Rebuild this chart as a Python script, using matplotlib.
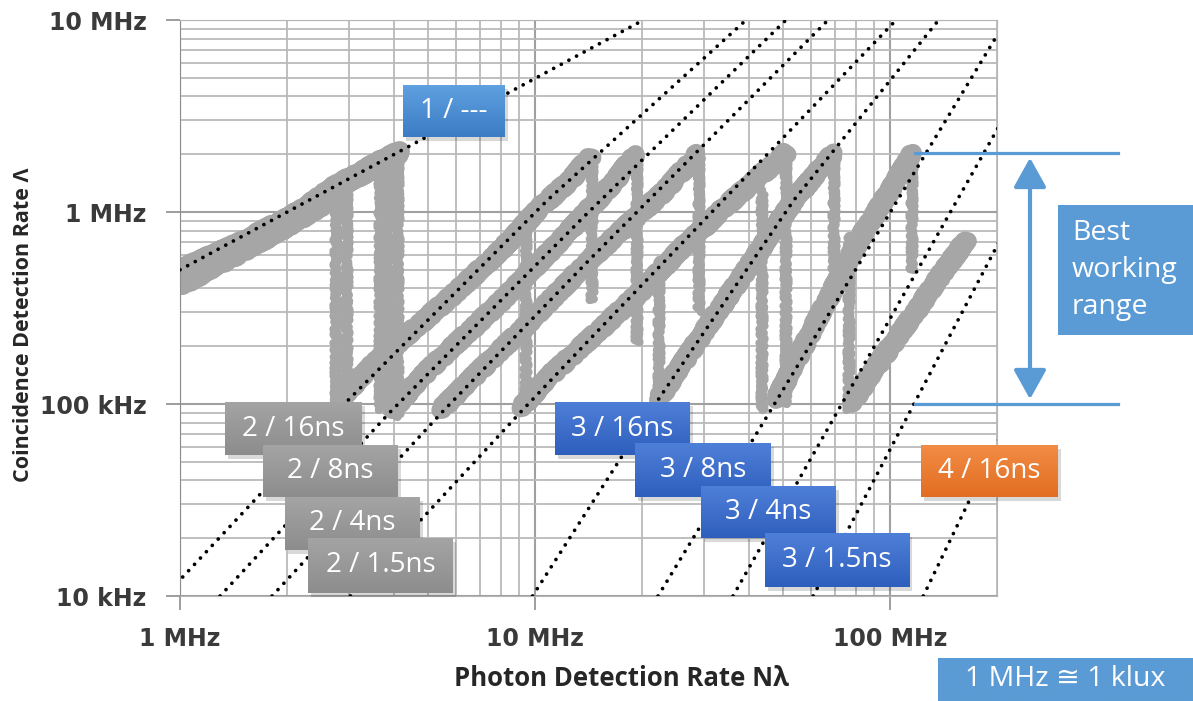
import numpy as np
import matplotlib.pyplot as plt
from matplotlib.patches import Rectangle, FancyArrowPatch
from matplotlib.lines import Line2D
from matplotlib.colors import LinearSegmentedColormap
from matplotlib.ticker import LogLocator, NullFormatter, FixedLocator, FixedFormatter

# all rates in MHz
# dotted model curves: photon rate N, coincidence rate L
model_1 = ([1.0, 20.2], [0.5, 10.0])
model_2 = [
    ([0.907, 2.98, 10.85, 39.3], [0.01, 0.105, 1.155, 10.0]),   # 16 ns
    ([1.297, 3.91, 13.7, 50.9], [0.01, 0.0909, 0.942, 10.0]),   # 8 ns
    ([1.817, 5.48, 14.2, 66.9], [0.01, 0.0909, 0.562, 10.0]),   # 4 ns
    ([3.02, 9.22, 14.35, 104.0], [0.01, 0.093, 0.22, 10.0]),    # 1.5 ns
]
model_3 = [
    ([9.84, 22.2, 53.6, 137.0], [0.01, 0.105, 1.155, 10.0]),
    ([22.2, 48.0, 202.0], [0.01, 0.105, 8.56]),
    ([36.1, 202.0], [0.01, 2.77]),
    ([60.7, 202.0], [0.01, 0.69]),
]
model_4 = ([124.0, 202.0], [0.01, 0.065])

# measured traces (grey bands)
trace_1fold = [
    ([1.0, 1.48, 2.18, 2.74, 3.22, 3.96, 4.17], [0.49, 0.68, 0.99, 1.34, 1.58, 1.95, 2.03]),
    ([1.0, 1.3, 1.7, 2.2, 2.8], [0.42, 0.55, 0.72, 0.95, 1.25]),
]
trace_2fold = [
    ([2.80, 3.5, 5.78, 8.0, 10.36, 12.5, 14.35], [0.105, 0.16, 0.36, 0.63, 1.06, 1.45, 1.95]),
    ([3.96, 5.0, 7.99, 11.0, 13.4, 16.5, 19.2], [0.093, 0.15, 0.34, 0.62, 0.92, 1.4, 2.0]),
    ([5.41, 7.0, 9.1, 14.35, 22.6, 28.7], [0.093, 0.15, 0.24, 0.57, 1.23, 2.0]),
    ([9.1, 11.0, 14.35, 20.0, 25.7, 35.0, 50.9], [0.095, 0.14, 0.22, 0.39, 0.64, 1.1, 2.03]),
]
trace_3fold = [
    ([22.2, 28.7, 37.9, 53.6, 69.5], [0.105, 0.213, 0.45, 1.155, 2.03]),
    ([47.7, 63.9, 82.9, 100.0, 116.0], [0.105, 0.30, 0.75, 1.3, 2.03]),
]
trace_4fold = ([77.6, 94.4, 107.5, 122.0, 139.0, 164.0], [0.10, 0.17, 0.237, 0.33, 0.47, 0.714])
# vertical switch-overs: N, L top, L bottom
drop_n = [2.75, 2.95, 3.66, 3.85, 4.10, 9.4, 14.5, 19.4, 22.4, 28.9, 43.5, 50.9, 69.5, 76.5, 115.0]
drop_top = [1.30, 1.40, 1.80, 1.92, 2.03, 0.95, 1.95, 2.0, 0.56, 2.0, 1.30, 2.03, 2.03, 0.75, 2.03]
drop_bottom = [0.11, 0.10, 0.093, 0.09, 0.086, 0.095, 0.35, 0.21, 0.105, 0.30, 0.093, 0.10, 0.50, 0.093, 0.50]

x_ticks = [1, 10, 100]
x_labels = ["1 MHz", "10 MHz", "100 MHz"]
y_ticks = [0.01, 0.1, 1, 10]
y_labels = ["10 kHz", "100 kHz", "1 MHz", "10 MHz"]

W, H = 1193, 701


def px(x, y):
    return x / W, 1 - y / H


fig = plt.figure(figsize=(W / 100, H / 100), dpi=100)
ax = fig.add_axes([180 / W, 1 - 596 / H, (997 - 180) / W, (596 - 20) / H])
ax.set_xscale("log")
ax.set_yscale("log")
ax.set_xlim(1, 200)
ax.set_ylim(0.01, 10)

ax.xaxis.set_major_locator(FixedLocator(x_ticks))
ax.xaxis.set_major_formatter(FixedFormatter(x_labels))
ax.yaxis.set_major_locator(FixedLocator(y_ticks))
ax.yaxis.set_major_formatter(FixedFormatter(y_labels))
ax.xaxis.set_minor_locator(LogLocator(base=10, subs=range(2, 10)))
ax.yaxis.set_minor_locator(LogLocator(base=10, subs=range(2, 10)))
ax.xaxis.set_minor_formatter(NullFormatter())
ax.yaxis.set_minor_formatter(NullFormatter())

ax.grid(which="major", color="#a0a0a0", lw=1.5)
ax.grid(which="minor", color="#bababa", lw=1.3)
ax.set_axisbelow(True)
for side in ["top", "right", "bottom"]:
    ax.spines[side].set_color("#b5b5b5")
ax.spines["left"].set_color("#8c8c8c")
ax.tick_params(which="major", direction="out", length=10, width=1.2, color="#8c8c8c")
ax.tick_params(which="minor", length=0)
ax.tick_params(axis="y", pad=14)
ax.tick_params(axis="x", pad=12)
for lab in ax.get_xticklabels() + ax.get_yticklabels():
    lab.set_fontfamily("DejaVu Sans")
    lab.set_fontweight("bold")
    lab.set_fontsize(17)
    lab.set_color("#3a3a3a")

grey = "#a6a6a6"
band = dict(color=grey, lw=13, solid_capstyle="round", solid_joinstyle="round", zorder=2)
lines = []
for n, l in trace_1fold:
    lines += ax.plot(n, l, **dict(band, lw=15))
for n, l in trace_2fold + trace_3fold + [trace_4fold]:
    lines += ax.plot(n, l, **band)
for n, t, b in zip(drop_n, drop_top, drop_bottom):
    lines += ax.plot([n, n], [t, b], **dict(band, lw=6))
# ragged look of the noisy measurement
for ln in lines:
    ln.set_sketch_params(scale=2.5, length=6, randomness=4)

dkw = dict(color="black", lw=2.7, linestyle=(0, (0.01, 2.3)), dash_capstyle="round", zorder=3)
for n, l in [model_1] + model_2 + model_3 + [model_4]:
    ax.plot(n, l, **dkw)

fig.text(*px(622, 678), "Photon Detection Rate N\u03bb", ha="center", va="center",
         fontsize=18.5, fontweight="bold", family=["Open Sans", "DejaVu Sans"], color="#262626")
fig.text(*px(24, 325), "Coincidence Detection Rate \u039b", ha="center", va="center", rotation=90,
         fontsize=15.5, fontweight="bold", family=["Open Sans", "DejaVu Sans"], color="#262626")


def box(x0, y0, x1, y1, top, bottom, text, size=20, ha="center", spacing=1.0, shadow=True):
    fx0, fy1 = px(x0, y1)
    fx1, fy0 = px(x1, y0)
    if shadow:
        fig.add_artist(Rectangle((fx0 + 3 / W, fy1 - 4 / H), fx1 - fx0, fy0 - fy1,
                                 transform=fig.transFigure, color="black", alpha=0.15, lw=0, zorder=4))
    bax = fig.add_axes([fx0, fy1, fx1 - fx0, fy0 - fy1], zorder=5)
    cmap = LinearSegmentedColormap.from_list("g", [top, bottom])
    bax.imshow(np.linspace(0, 1, 32).reshape(-1, 1), aspect="auto", cmap=cmap,
               extent=(0, 1, 0, 1), interpolation="bilinear")
    bax.set_axis_off()
    tx = 0.5 if ha == "center" else 14 / (x1 - x0)
    bax.text(tx, 0.5, text, ha=ha, va="center", color="white", fontsize=size,
             family=["Open Sans", "DejaVu Sans"], linespacing=spacing, transform=bax.transAxes)


light_blue = "#5b9bd5"

box(403, 85, 505, 137, "#5fa0e0", "#3c7cc4", "1 / ---")
box(225, 402, 362, 455, "#a4a4a4", "#8d8d8d", "2 / 16ns")
box(263, 445, 398, 497, "#a4a4a4", "#8d8d8d", "2 / 8ns")
box(285, 497, 420, 550, "#a4a4a4", "#8d8d8d", "2 / 4ns")
box(308, 538, 453, 593, "#a4a4a4", "#8d8d8d", "2 / 1.5ns")
box(555, 402, 690, 455, "#4e7fd8", "#2f5fbd", "3 / 16ns")
box(635, 443, 771, 497, "#4e7fd8", "#2f5fbd", "3 / 8ns")
box(701, 486, 836, 538, "#4e7fd8", "#2f5fbd", "3 / 4ns")
box(765, 533, 909, 587, "#4e7fd8", "#2f5fbd", "3 / 1.5ns")
box(921, 445, 1058, 497, "#f28c45", "#e26e22", "4 / 16ns")
box(1058, 205, 1193, 335, light_blue, light_blue, "Best\nworking\nrange", size=20.5,
    ha="left", spacing=1.42, shadow=False)
box(938, 658, 1193, 701, light_blue, light_blue, "1 MHz \u2245 1 klux", size=20.5, shadow=False)

for y in [153, 404]:
    fig.add_artist(Line2D([915 / W, 1118 / W], [1 - y / H, 1 - y / H], transform=fig.transFigure,
                          color=light_blue, lw=2.3, zorder=5))
arrow = FancyArrowPatch(px(1030, 155), px(1030, 402), transform=fig.transFigure,
                        arrowstyle="<|-|>,head_length=18,head_width=10", mutation_scale=1,
                        color=light_blue, lw=3, zorder=5)
fig.add_artist(arrow)

fig.savefig("out.png", dpi=100)
